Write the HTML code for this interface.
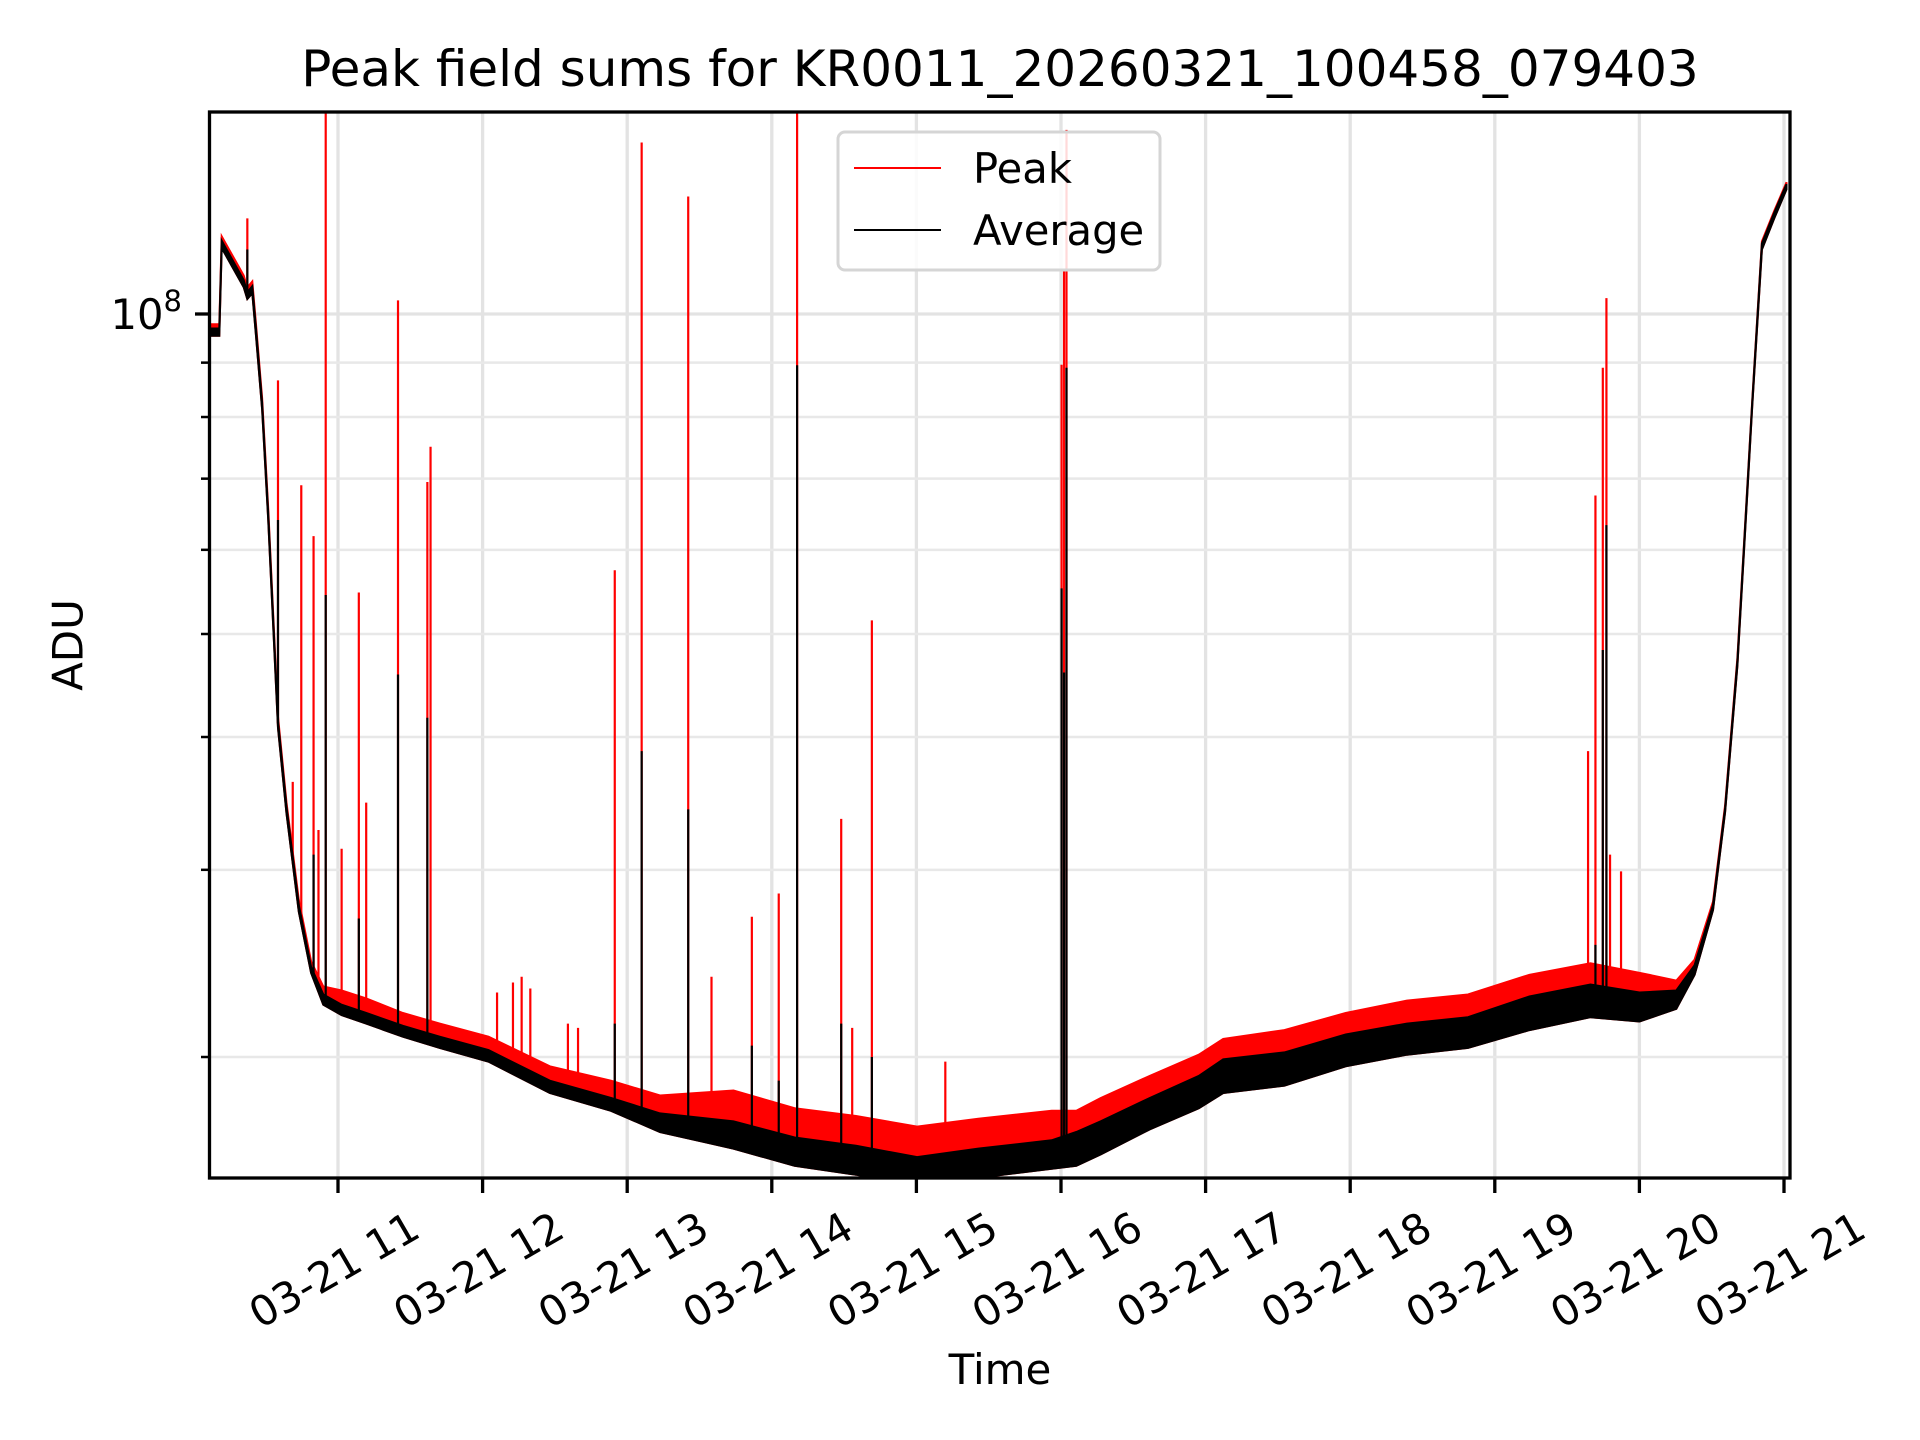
<!DOCTYPE html>
<html><head><meta charset="utf-8"><style>
html,body{margin:0;padding:0;background:#fff;}
svg{display:block;font-family:"DejaVu Sans","Liberation Sans",sans-serif;}
</style></head><body>
<svg id="chart" width="1920" height="1440" viewBox="0 0 1920 1440" xmlns="http://www.w3.org/2000/svg">
<defs><clipPath id="plotclip"><rect x="209.5" y="112" width="1580.5" height="1066"/></clipPath></defs>
<rect width="1920" height="1440" fill="#fff"/>
<text x="1000" y="86" font-size="50" text-anchor="middle">Peak field sums for KR0011_20260321_100458_079403</text>
<g id="grid"></g>
<g id="series" clip-path="url(#plotclip)"></g>
<rect x="209.5" y="112" width="1580.5" height="1066" fill="none" stroke="#000" stroke-width="3.3"/>
<g id="axes"></g>
<text x="68" y="645" font-size="42" text-anchor="middle" dominant-baseline="central" transform="rotate(-90 68 645)">ADU</text>
<text x="1000" y="1384" font-size="42" text-anchor="middle">Time</text>
<g>
<rect x="838" y="132" width="322" height="138" rx="7" fill="#fff" fill-opacity="0.85" stroke="#d5d5d5" stroke-width="3"/>
<line x1="854" y1="168" x2="941" y2="168" stroke="#f00" stroke-width="2"/>
<text x="973" y="183" font-size="41.7">Peak</text>
<line x1="854" y1="230" x2="941" y2="230" stroke="#000" stroke-width="2"/>
<text x="973" y="245" font-size="41.7">Average</text>
</g>
</svg>
<script>
// hours since midnight on 03-21
const times = [10.111,10.179,10.196,10.348,10.373,10.407,10.433,10.475,10.517,10.585,10.644,10.729,10.814,10.898,11.025,11.195,11.449,11.703,12.041,12.465,12.888,13.227,13.735,14.158,14.582,15.005,15.428,15.936,16.106,16.275,16.614,16.953,17.122,17.545,17.969,18.392,18.815,19.239,19.662,20.001,20.255,20.382,20.509,20.593,20.678,20.746,20.780,20.847,20.932,21.017];
// values in units of 1e7 ADU
const avgValues = [9.64,9.64,11.66,10.71,10.43,10.57,9.64,8.22,6.47,4.12,3.42,2.77,2.42,2.27,2.22,2.18,2.12,2.07,2.01,1.88,1.81,1.74,1.69,1.63,1.60,1.56,1.59,1.62,1.65,1.69,1.78,1.86,1.93,1.96,2.04,2.09,2.12,2.21,2.27,2.24,2.27,2.42,2.77,3.42,4.70,6.82,8.22,11.6,12.4,13.2];
const peakHigh = [9.78,9.78,11.83,10.87,10.59,10.73,9.78,8.34,6.57,4.18,3.47,2.81,2.46,2.33,2.31,2.27,2.20,2.15,2.09,1.96,1.90,1.84,1.86,1.79,1.76,1.72,1.75,1.78,1.78,1.83,1.92,2.01,2.08,2.12,2.20,2.26,2.29,2.39,2.45,2.40,2.36,2.47,2.80,3.45,4.75,6.88,8.28,11.7,12.5,13.3];
const avgHigh = [9.69,9.69,11.72,10.76,10.48,10.62,9.69,8.26,6.50,4.14,3.44,2.78,2.43,2.29,2.24,2.20,2.14,2.09,2.03,1.90,1.83,1.77,1.74,1.68,1.65,1.61,1.64,1.67,1.70,1.74,1.83,1.92,1.99,2.02,2.10,2.15,2.18,2.28,2.34,2.30,2.31,2.44,2.78,3.43,4.72,6.85,8.25,11.65,12.45,13.25];
const avgLow = [9.54,9.54,11.54,10.6,10.33,10.46,9.54,8.14,6.41,4.08,3.39,2.74,2.40,2.24,2.19,2.15,2.09,2.04,1.98,1.85,1.78,1.70,1.64,1.58,1.55,1.51,1.54,1.57,1.58,1.62,1.71,1.79,1.85,1.88,1.96,2.01,2.04,2.12,2.18,2.16,2.22,2.39,2.75,3.40,4.67,6.78,8.18,11.5,12.3,13.1];
// spikes
const spikeTimes = [10.373,10.585,10.687,10.746,10.831,10.865,10.915,11.025,11.144,11.195,11.415,11.618,11.640,12.100,12.210,12.270,12.330,12.590,12.660,12.914,13.100,13.422,13.583,13.862,14.048,14.175,14.480,14.556,14.692,15.200,16.004,16.021,16.038,19.645,19.696,19.747,19.772,19.797,19.873];
const spikePeak = [12.3,8.66,3.63,6.9,6.18,3.27,20,3.14,5.47,3.47,10.3,6.95,7.5,2.3,2.35,2.38,2.32,2.15,2.13,5.74,14.5,12.9,2.38,2.71,2.85,20,3.35,2.13,5.15,1.98,8.96,11.0,14.9,3.88,6.75,8.9,10.35,3.1,2.99];
const spikeAvg = [11.5,6.4,0,0,3.1,0,5.44,0,2.7,0,4.58,4.17,0,0,0,0,0,0,0,2.15,3.88,3.42,0,2.05,1.9,8.95,2.15,0,2.0,0,5.52,4.6,8.9,0,2.55,4.83,6.33,0,0];
const xTickHours = [11,12,13,14,15,16,17,18,19,20,21];
const xTickLabels = ["03-21 11","03-21 12","03-21 13","03-21 14","03-21 15","03-21 16","03-21 17","03-21 18","03-21 19","03-21 20","03-21 21"];
const yMinorTicks = [2,3,4,5,6,7,8,9];

const NS = "http://www.w3.org/2000/svg";
const X = t => 338 + (t - 11) * 144.6;
const Y = v => 314 - (Math.log10(v * 1e7) - 8) * 1063;
function mk(tag, attrs, parent){const e=document.createElementNS(NS,tag);for(const k in attrs)e.setAttribute(k,attrs[k]);parent.appendChild(e);return e;}
function interp(t){for(let i=0;i<times.length-1;i++){if(t>=times[i]&&t<=times[i+1]){const f=(t-times[i])/(times[i+1]-times[i]);return avgValues[i]+(avgValues[i+1]-avgValues[i])*f;}}return avgValues[avgValues.length-1];}
const grid=document.getElementById('grid'), ser=document.getElementById('series'), axes=document.getElementById('axes');
xTickHours.forEach((h,i)=>{
  const x=X(h);
  const g=mk('line',{x1:x,x2:x,y1:112,y2:1178,stroke:'#e3e3e3','stroke-width':3.3},grid);
  
  
  const t=mk('line',{x1:x,x2:x,y1:1178,y2:1193,stroke:'#000','stroke-width':3.3},axes);
  
  
  const lb=mk('text',{x:0,y:0,'font-size':41.7,'text-anchor':'middle','dominant-baseline':'central',transform:`translate(${x-4},1270) rotate(-30)`},axes);
  lb.textContent=xTickLabels[i];
  
  
});
const ym=Y(10);
const mg=mk('line',{x1:209.5,x2:1790,y1:ym,y2:ym,stroke:'#e3e3e3','stroke-width':3.3},grid);


const mt=mk('line',{x1:195,x2:209.5,y1:ym,y2:ym,stroke:'#000','stroke-width':3.3},axes);


const ml=mk('text',{x:182,y:ym+15,'font-size':41.7,'text-anchor':'end'},axes);
ml.innerHTML='10<tspan dy="-18" font-size="29">8</tspan>';


yMinorTicks.forEach(v=>{
  const y=Y(v);
  const g=mk('line',{x1:209.5,x2:1790,y1:y,y2:y,stroke:'#e8e8e8','stroke-width':2.5},grid);
  
  
  const t=mk('line',{x1:201,x2:209.5,y1:y,y2:y,stroke:'#000','stroke-width':2.5},axes);
  
  
});
function band(top,bot){let d='';times.forEach((t,i)=>{d+=(i?'L':'M')+X(t).toFixed(1)+','+Y(top[i]).toFixed(1);});for(let i=times.length-1;i>=0;i--)d+='L'+X(times[i]).toFixed(1)+','+Y(bot[i]).toFixed(1);return d+'Z';}
const rb=mk('path',{d:band(peakHigh,avgLow),fill:'#f00',stroke:'#f00','stroke-width':2},ser);


spikeTimes.forEach((t,i)=>{
  const x=X(t);
  const s=mk('line',{x1:x,x2:x,y1:Y(interp(t)),y2:Y(spikePeak[i]),stroke:'#f00','stroke-width':2.2},ser);
  
  
});
const bb=mk('path',{d:band(avgHigh,avgLow),fill:'#000',stroke:'#000','stroke-width':2},ser);


spikeTimes.forEach((t,i)=>{
  if(!spikeAvg[i])return;
  const x=X(t);
  const s=mk('line',{x1:x,x2:x,y1:Y(interp(t)),y2:Y(spikeAvg[i]),stroke:'#000','stroke-width':2.2},ser);
  
  
});
</script>
</body></html>
